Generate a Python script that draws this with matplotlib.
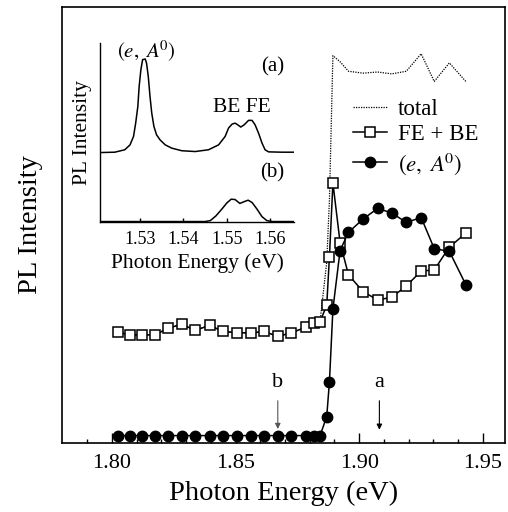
import matplotlib
matplotlib.use('Agg')
import matplotlib.pyplot as plt
from matplotlib.lines import Line2D

plt.rcParams['font.family'] = ['Liberation Serif', 'DejaVu Serif']
plt.rcParams['mathtext.fontset'] = 'stix'

# main panel: photon energy (eV) and PL intensity (arb. units)
energy = [1.8023, 1.8074, 1.8121, 1.8175, 1.8228, 1.8283, 1.8337, 1.8395,
          1.8450, 1.8505, 1.8563, 1.8616, 1.8670, 1.8724, 1.8784, 1.8817,
          1.8842, 1.8869, 1.8880, 1.8894, 1.8923, 1.8957, 1.9016, 1.9075,
          1.9132, 1.9191, 1.9251, 1.9304, 1.9365, 1.9432]
fe_be = [0.272, 0.265, 0.265, 0.265, 0.283, 0.293, 0.277, 0.290,
         0.274, 0.271, 0.270, 0.274, 0.261, 0.270, 0.285, 0.296,
         0.300, 0.343, 0.471, 0.665, 0.508, 0.423, 0.379, 0.357,
         0.364, 0.394, 0.433, 0.436, 0.496, 0.533]
e_a0 = [0.0, 0.0, 0.0, 0.0, 0.0, 0.0, 0.0, 0.0,
        0.0, 0.0, 0.0, 0.0, 0.0, 0.0, 0.0, 0.0,
        0.0, 0.050, 0.142, 0.333, 0.487, 0.535, 0.570, 0.598,
        0.586, 0.561, 0.574, 0.492, 0.485, 0.397]
total = [0.272, 0.265, 0.265, 0.265, 0.283, 0.293, 0.277, 0.290,
         0.274, 0.271, 0.270, 0.274, 0.261, 0.270, 0.285, 0.296,
         0.300, 0.457, 0.621, 1.000, 0.984, 0.959, 0.954, 0.957,
         0.952, 0.959, 1.005, 0.932, 0.981, 0.932]

# inset spectra
spec_a_x = [1.5212, 1.5242, 1.5265, 1.5277, 1.5285, 1.5290, 1.5295, 1.5298,
            1.5302, 1.5306, 1.5312, 1.5315, 1.5319, 1.5323, 1.5327, 1.5332,
            1.5338, 1.5346, 1.5358, 1.5373, 1.5396, 1.5427, 1.5458, 1.5481,
            1.5496, 1.5504, 1.5512, 1.5519, 1.5525, 1.5532, 1.5540, 1.5550,
            1.5558, 1.5565, 1.5573, 1.5581, 1.5588, 1.5596, 1.5627, 1.5655]
spec_a_y = [0.427, 0.429, 0.444, 0.474, 0.525, 0.607, 0.710, 0.832,
            0.935, 0.996, 1.000, 0.975, 0.894, 0.771, 0.669, 0.587,
            0.536, 0.505, 0.474, 0.454, 0.438, 0.433, 0.444, 0.474,
            0.525, 0.577, 0.601, 0.607, 0.597, 0.583, 0.597, 0.624,
            0.624, 0.597, 0.546, 0.485, 0.444, 0.431, 0.429, 0.429]
spec_b_x = [1.5212, 1.5450, 1.5462, 1.5475, 1.5489, 1.5500, 1.5510, 1.5519,
            1.5530, 1.5539, 1.5549, 1.5558, 1.5569, 1.5581, 1.5592, 1.5605,
            1.5655]
spec_b_y = [0.004, 0.004, 0.010, 0.039, 0.082, 0.118, 0.141, 0.139,
            0.115, 0.125, 0.135, 0.121, 0.082, 0.034, 0.010, 0.004,
            0.004]

fig = plt.figure(figsize=(5.08, 5.12), dpi=100)
ax = fig.add_axes([0.123, 0.135, 0.871, 0.852])

ax.plot(energy, total, color='black', lw=0.9, ls=(0, (1, 1)), zorder=2)
ax.plot(energy, fe_be, color='black', lw=1.1, marker='s', ms=7.2,
        mfc='white', mec='black', mew=1.1, zorder=3)
ax.plot(energy, e_a0, color='black', lw=1.1, marker='o', ms=7.5,
        mfc='black', mec='black', zorder=4)

ax.set_xlim(1.78, 1.959)
ax.set_ylim(-0.0192, 1.129)
ax.set_xticks([1.80, 1.85, 1.90, 1.95])
ax.set_xticklabels(['1.80', '1.85', '1.90', '1.95'])
ax.set_xticks([1.79 + 0.01 * i for i in range(17)], minor=True)
ax.set_yticks([])
ax.tick_params(axis='x', which='major', direction='in', length=7, width=1,
               labelsize=16, pad=8)
ax.tick_params(axis='x', which='minor', direction='in', length=3, width=1)
for s in ax.spines.values():
    s.set_linewidth(1.2)
ax.set_xlabel('Photon Energy (eV)', fontsize=20.5, labelpad=6)
ax.set_ylabel('PL Intensity', fontsize=20.5, labelpad=14)

# arrows marking the inset excitation energies
ax.annotate('', xy=(1.8671, 0.010), xytext=(1.8671, 0.099),
            arrowprops=dict(arrowstyle='-|>', color='#555555', lw=0.8,
                            mutation_scale=8))
ax.text(1.8671, 0.139, 'b', fontsize=16, ha='center', va='center')
ax.annotate('', xy=(1.9082, 0.008), xytext=(1.9082, 0.099),
            arrowprops=dict(arrowstyle='-|>', color='black', lw=0.8,
                            mutation_scale=8))
ax.text(1.9082, 0.139, 'a', fontsize=16, ha='center', va='center')

handles = [
    Line2D([], [], color='black', lw=0.9, ls=(0, (1, 1))),
    Line2D([], [], color='black', lw=1.1, marker='s', ms=7.2,
           mfc='white', mec='black', mew=1.1),
    Line2D([], [], color='black', lw=1.1, marker='o', ms=7.5,
           mfc='black', mec='black'),
]
ax.legend(handles, ['total', 'FE + BE', r'$(e,\ A^{\!0})$'], loc='upper left',
          bbox_to_anchor=(0.636, 0.81), frameon=False, fontsize=16.5,
          handlelength=1.5, handletextpad=0.45, labelspacing=0.2,
          borderaxespad=0)

# inset
ins = fig.add_axes([0.197, 0.566, 0.382, 0.350])
ins.plot(spec_a_x, spec_a_y, color='black', lw=1.1)
ins.plot(spec_b_x, spec_b_y, color='black', lw=1.1)
ins.set_xlim(1.5208, 1.5655)
ins.set_ylim(0, 1.098)
ins.set_xticks([1.53, 1.54, 1.55, 1.56])
ins.set_xticklabels(['1.53', '1.54', '1.55', '1.56'])
ins.set_yticks([])
ins.spines['top'].set_visible(False)
ins.spines['right'].set_visible(False)
ins.spines['left'].set_linewidth(1.0)
ins.spines['bottom'].set_linewidth(1.0)
ins.patch.set_alpha(0)
ins.tick_params(axis='x', direction='in', length=3, width=1,
                labelsize=13, pad=6)
ins.set_xlabel('Photon Energy (eV)', fontsize=15.5, labelpad=4)
ins.set_ylabel('PL Intensity', fontsize=15.5, labelpad=6)
ins.text(1.5315, 1.045, r'$(e,\ A^{\!0})$', fontsize=15, ha='center', va='center')
ins.text(1.5605, 0.950, '(a)', fontsize=15, ha='center', va='center')
ins.text(1.5535, 0.700, 'BE FE', fontsize=15.5, ha='center', va='center')
ins.text(1.5605, 0.300, '(b)', fontsize=15, ha='center', va='center')

fig.savefig('out.png', dpi=100)
